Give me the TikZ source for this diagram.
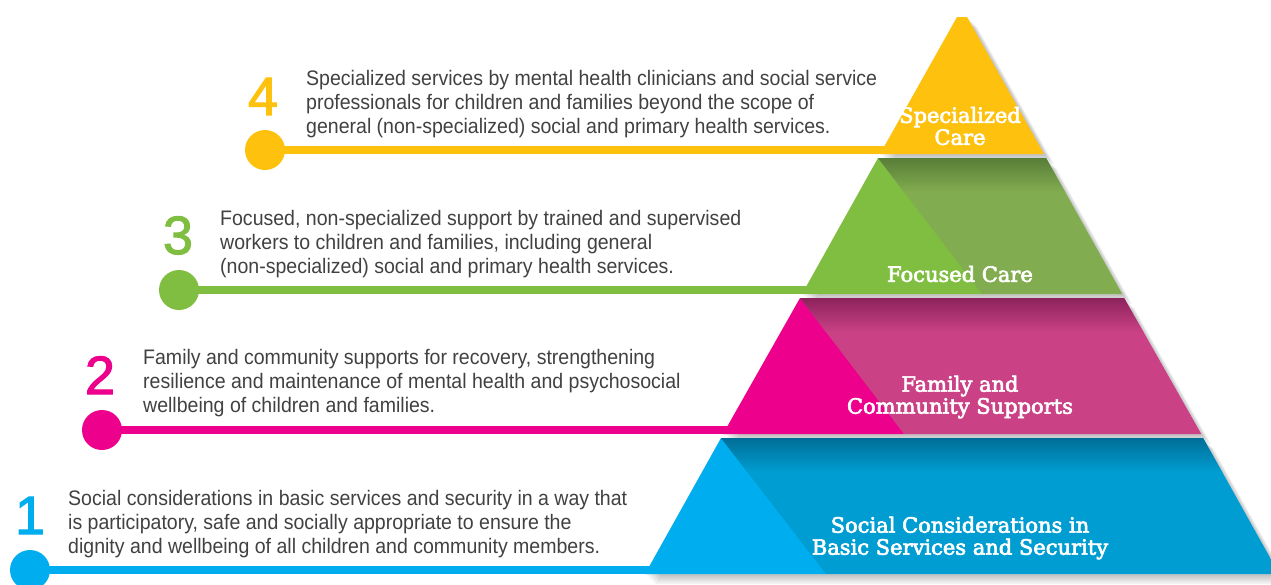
\documentclass[tikz,border=0pt]{standalone}
\usepackage{fontspec}
\setmainfont{Liberation Sans}
\newfontfamily\bodyfont[FakeStretch=0.93]{Liberation Sans}
\newfontfamily\numfont[FakeBold=2]{Liberation Sans}
\newfontfamily\tierfont[FakeStretch=1.0,FakeBold=3]{DejaVu Serif}

\definecolor{tierYellow}{RGB}{253,193,14}
\definecolor{tierGreen}{RGB}{128,190,65}
\definecolor{tierGreenDk}{RGB}{130,172,80}
\definecolor{tierGreenSh}{RGB}{88,126,56}
\definecolor{tierPink}{RGB}{236,0,140}
\definecolor{tierPinkDk}{RGB}{202,65,133}
\definecolor{tierPinkSh}{RGB}{140,35,92}
\definecolor{tierBlue}{RGB}{0,174,239}
\definecolor{tierBlueDk}{RGB}{0,157,210}
\definecolor{tierBlueSh}{RGB}{0,110,150}
\definecolor{bodygray}{RGB}{65,64,66}

\tikzset{
  desc/.style={anchor=north west, inner sep=0pt, align=left, text=bodygray,
    font=\bodyfont\fontsize{21}{24}\selectfont},
  num/.style={anchor=base, inner sep=0pt, text=#1,
    font=\numfont\fontsize{54}{54}\selectfont},
  dot/.style={circle, fill=#1, minimum size=40pt, inner sep=0pt},
  lvl/.style={align=center, text=white, inner sep=0pt,
    font=\tierfont\fontsize{21}{22}\selectfont},
  bar/.style={line width=8pt, draw=#1},
  tiershadow/.style={fill=black, opacity=0.05}
}

\begin{document}
\begin{tikzpicture}[x=1pt,y=-1pt]
\useasboundingbox (0,0) rectangle (1271,584);

% Bars
\node[dot=tierYellow] (d4) at (265,150) {};
\coordinate (e4) at (890,150);
\draw[bar=tierYellow] (d4.center) -- (e4);

\node[dot=tierGreen] (d3) at (179,290) {};
\coordinate (e3) at (812,290);
\draw[bar=tierGreen] (d3.center) -- (e3);

\node[dot=tierPink] (d2) at (102,430) {};
\coordinate (e2) at (733,430);
\draw[bar=tierPink] (d2.center) -- (e2);

\node[dot=tierBlue] (d1) at (30,570) {};
\coordinate (e1) at (655,570);
\draw[bar=tierBlue] (d1.center) -- (e1);

% Shadows
\foreach \s in {2,4,6,8,10}{
  \fill[tiershadow,xshift=\s pt,yshift=-\s pt] (957,17) -- (967,17) -- (1044,154) -- (880,154) -- cycle;
  \fill[tiershadow,xshift=\s pt,yshift=-\s pt] (878,158) -- (1046,158) -- (1122,294) -- (802,294) -- cycle;
  \fill[tiershadow,xshift=\s pt,yshift=-\s pt] (800,298) -- (1124,298) -- (1201,434) -- (723,434) -- cycle;
  \fill[tiershadow,xshift=\s pt,yshift=-\s pt] (721,438) -- (1203,438) -- (1279,574) -- (645,574) -- cycle;
}

% Specialized care
\fill[tierYellow] (957,17) -- (967,17) -- (1044,154) -- (880,154) -- cycle;

% Focused care
\fill[tierGreen] (878,158) -- (1046,158) -- (1122,294) -- (802,294) -- cycle;
\begin{scope}
  \clip (878,158) -- (1046,158) -- (1122,294) -- (982,294) -- cycle;
  \fill[tierGreenDk] (870,158) rectangle (1130,294);
  \shade[top color=tierGreenSh, bottom color=tierGreenDk] (870,158) rectangle (1130,192);
\end{scope}

% Family and community
\fill[tierPink] (800,298) -- (1124,298) -- (1201,434) -- (723,434) -- cycle;
\begin{scope}
  \clip (800,298) -- (1124,298) -- (1201,434) -- (904,434) -- cycle;
  \fill[tierPinkDk] (790,298) rectangle (1210,434);
  \shade[top color=tierPinkSh, bottom color=tierPinkDk] (790,298) rectangle (1210,332);
\end{scope}

% Basic services
\fill[tierBlue] (721,438) -- (1203,438) -- (1279,574) -- (645,574) -- cycle;
\begin{scope}
  \clip (721,438) -- (1203,438) -- (1279,574) -- (826,574) -- cycle;
  \fill[tierBlueDk] (710,438) rectangle (1290,574);
  \shade[top color=tierBlueSh, bottom color=tierBlueDk] (710,438) rectangle (1290,472);
\end{scope}

% Tier labels
\node[lvl] (l4) at (960,126) {Specialized\\Care};
\node[lvl] (l3) at (960,274) {Focused Care};
\node[lvl] (l2) at (960,397) {Family and\\Community Supports};
\node[lvl] (l1) at (960,538) {Social Considerations in\\Basic Services and Security};

% Numbers
\node[num=tierYellow] (n4) at (263,115) {4};
\node[num=tierGreen]  (n3) at (178,254) {3};
\node[num=tierPink]   (n2) at (100,394) {2};
\node[num=tierBlue]   (n1) at (30,534) {1};

% Descriptions
\node[desc] (t4) at (306,70) {Specialized services by mental health clinicians and social service\\
  professionals for children and families beyond the scope of\\
  general (non-specialized) social and primary health services.};
\node[desc] (t3) at (220,210) {Focused, non-specialized support by trained and supervised\\
  workers to children and families, including general\\
  (non-specialized) social and primary health services.};
\node[desc] (t2) at (143,349) {Family and community supports for recovery, strengthening\\
  resilience and maintenance of mental health and psychosocial\\
  wellbeing of children and families.};
\node[desc] (t1) at (68,490) {Social considerations in basic services and security in a way that\\
  is participatory, safe and socially appropriate to ensure the\\
  dignity and wellbeing of all children and community members.};

\end{tikzpicture}
\end{document}
